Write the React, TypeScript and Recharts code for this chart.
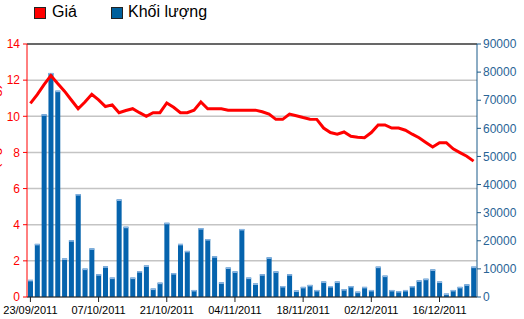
import { ComposedChart, Bar, Line, XAxis, YAxis, CartesianGrid, ReferenceLine, Legend } from 'recharts';

// trading days 23/09/2011 .. 23/12/2011 (weekdays, no holidays in range)
function tradingDays(): string[] {
  const out: string[] = [];
  const d = new Date(2011, 8, 23);
  const end = new Date(2011, 11, 23);
  while (d <= end) {
    const wd = d.getDay();
    if (wd !== 0 && wd !== 6) {
      const dd = String(d.getDate()).padStart(2, '0');
      const mm = String(d.getMonth() + 1).padStart(2, '0');
      out.push(`${dd}/${mm}/${d.getFullYear()}`);
    }
    d.setDate(d.getDate() + 1);
  }
  return out;
}

const dates = tradingDays();

const price = [
  10.71, 11.2, 11.75, 12.25, 11.81, 11.39, 10.9, 10.42, 10.79, 11.22,
  10.91, 10.54, 10.63, 10.2, 10.32, 10.42, 10.2, 10.0, 10.2, 10.2,
  10.74, 10.5, 10.2, 10.2, 10.34, 10.79, 10.42, 10.42, 10.42, 10.34,
  10.34, 10.34, 10.34, 10.34, 10.25, 10.12, 9.83, 9.83, 10.12, 10.03,
  9.93, 9.84, 9.83, 9.35, 9.1, 9.01, 9.13, 8.89, 8.84, 8.81,
  9.1, 9.52, 9.52, 9.35, 9.35, 9.23, 9.01, 8.81, 8.55, 8.3,
  8.54, 8.54, 8.2, 7.99, 7.79, 7.52,
];

const volume = [
  6100, 18900, 65000, 79700, 73400, 13700, 20200, 36600, 10100, 17300,
  8100, 10900, 6900, 34700, 25000, 6900, 9200, 11200, 3000, 5100,
  26400, 8500, 18900, 16400, 2500, 24500, 20600, 14500, 5200, 10500,
  9100, 24200, 6900, 4800, 8100, 14100, 9100, 3900, 8100, 2300,
  3600, 4300, 2500, 5500, 3900, 5500, 2800, 3900, 1900, 3600,
  2500, 10800, 7600, 2500, 2100, 2500, 3900, 5900, 6500, 9800,
  5500, 1200, 2500, 3600, 4500, 10800,
];

const priceTicks = [0, 2, 4, 6, 8, 10, 12, 14];
const volTicks = [0, 10000, 20000, 30000, 40000, 50000, 60000, 70000, 80000, 90000];

const data = dates.map((date, i) => ({ date, price: price[i], volume: volume[i] }));

const RED = '#ff0000';
const BLUE = '#0563ad';
const AXIS_BLUE = '#2a6496';

function VolBar(props: any) {
  const { x, y, width, height } = props;
  if (!height || height <= 0) return null;
  return (
    <g>
      <rect x={x} y={y} width={width} height={height} fill={BLUE} />
      <rect x={x} y={y} width={width} height={Math.min(1.5, height)} fill="#8db7e3" />
    </g>
  );
}

function LegendBox() {
  return (
    <div style={{ position: 'relative', width: 300, height: 22, fontSize: 16, lineHeight: '18px', color: '#000' }}>
      <span style={{ position: 'absolute', left: 34, top: 7, width: 10, height: 10, background: RED, border: '1px solid #222' }} />
      <span style={{ position: 'absolute', left: 52, top: 3 }}>Giá</span>
      <span style={{ position: 'absolute', left: 111, top: 7, width: 10, height: 10, background: '#00609c', border: '1px solid #222' }} />
      <span style={{ position: 'absolute', left: 128, top: 3 }}>Khối lượng</span>
    </div>
  );
}

function PriceLabel() {
  return (
    <text x={-1} y={140} transform="rotate(-90, -1, 140)" textAnchor="middle" fill={RED} fontSize={15}>
      Giá (nghìn đồng)
    </text>
  );
}

export default function App() {
  return (
    <div style={{ position: 'absolute', left: 0, top: 0, width: 524, height: 319, fontFamily: '"Liberation Sans", Arial, sans-serif' }}>
      <ComposedChart width={524} height={319} data={data} margin={{ top: 22, right: 0, bottom: 0, left: 0 }}>
        <CartesianGrid yAxisId="left" vertical={false} stroke="#c4c4c4" strokeWidth={1.5} />
        <XAxis
          dataKey="date"
          interval={9}
          height={22}
          tickSize={5}
          tickMargin={4}
          stroke="#222"
          tick={{ fontSize: 11, fill: '#000' }}
        />
        <YAxis
          yAxisId="left"
          domain={[0, 14]}
          ticks={priceTicks}
          width={27}
          tickSize={4}
          tickMargin={3}
          stroke={RED}
          tick={{ fontSize: 12, fill: RED }}
          label={<PriceLabel />}
        />
        <YAxis
          yAxisId="right"
          orientation="right"
          domain={[0, 90000]}
          ticks={volTicks}
          width={47}
          tickSize={4}
          tickMargin={2}
          stroke="#1a5a8a"
          tick={{ fontSize: 12, fill: AXIS_BLUE }}
        />
        <Legend verticalAlign="top" align="left" wrapperStyle={{ top: 0, left: 0 }} content={<LegendBox />} />
        <Bar yAxisId="right" dataKey="volume" barSize={5} shape={<VolBar />} isAnimationActive={false} />
        <ReferenceLine yAxisId="left" y={14} stroke="#444" strokeWidth={1.5} />
        <Line
          yAxisId="left"
          type="linear"
          dataKey="price"
          stroke={RED}
          strokeWidth={3}
          dot={false}
          isAnimationActive={false}
        />
      </ComposedChart>
    </div>
  );
}
